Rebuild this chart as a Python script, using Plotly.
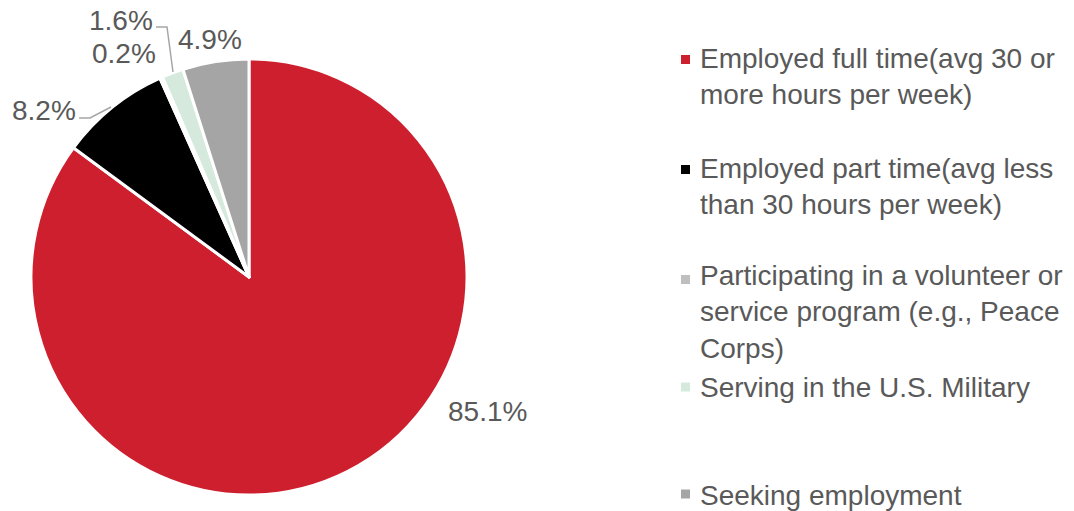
import plotly.graph_objects as go

W, H = 1074, 511

categories = [
    "Employed full time(avg 30 or more hours per week)",
    "Employed part time(avg less than 30 hours per week)",
    "Participating in a volunteer or service program (e.g., Peace Corps)",
    "Serving in the U.S. Military",
    "Seeking employment",
]
legend_text = [
    "Employed full time(avg 30 or<br>more hours per week)",
    "Employed part time(avg less<br>than 30 hours per week)",
    "Participating in a volunteer or<br>service program (e.g., Peace<br>Corps)",
    "Serving in the U.S. Military",
    "Seeking employment",
]
values = [85.1, 8.2, 0.2, 1.6, 4.9]
colors = ["#CD1F2E", "#000000", "#BFBFBF", "#D5EADD", "#A5A5A5"]

TEXT_COLOR = "#595959"
FONT = "Liberation Sans, Arial, sans-serif"
FS = 28


def px(x, y):
    return x / W, (H - y) / H


fig = go.Figure()
x0, y1 = px(31, 59)
x1, y0 = px(467, 495)
fig.add_trace(go.Pie(
    labels=categories,
    values=values,
    sort=False,
    direction="clockwise",
    rotation=0,
    marker=dict(colors=colors, line=dict(color="white", width=3)),
    textinfo="none",
    showlegend=False,
    domain=dict(x=[x0, x1], y=[y0, y1]),
))

annotations = []
shapes = []

# data labels (text from values), positioned like the reference
label_pos = [(487, 411), (44, 110), (124, 53), (121, 20), (210, 39)]
for v, (lx, ly) in zip(values, label_pos):
    ax, ay = px(lx, ly)
    annotations.append(dict(
        x=ax, y=ay, xref="paper", yref="paper", text=f"{v}%",
        showarrow=False, xanchor="center", yanchor="middle",
        font=dict(family=FONT, size=FS, color=TEXT_COLOR),
    ))

# leader lines
def path(points):
    d = ""
    for i, (x, y) in enumerate(points):
        pxx, pyy = px(x, y)
        d += ("M" if i == 0 else "L") + f"{pxx},{pyy} "
    return d.strip()

for pts in [[(79, 118), (90, 118), (111, 107)], [(156, 27), (167, 27), (173, 72)]]:
    shapes.append(dict(type="path", xref="paper", yref="paper", path=path(pts),
                       line=dict(color="#A6A6A6", width=1.5)))

# legend (manual, to reproduce spacing)
legend_mid = [76.5, 186.5, 312.5, 387, 495]
marker_y = [59.5, 169.5, 279.5, 387, 494]
for txt, col, my, ty in zip(legend_text, colors, marker_y, legend_mid):
    ax, ay = px(698, ty)
    annotations.append(dict(
        x=ax, y=ay, xref="paper", yref="paper", text=txt, align="left",
        showarrow=False, xanchor="left", yanchor="middle",
        font=dict(family=FONT, size=FS, color=TEXT_COLOR),
    ))
    sx0, sy1 = px(681, my - 4.5)
    sx1, sy0 = px(690, my + 4.5)
    shapes.append(dict(type="rect", xref="paper", yref="paper",
                       x0=sx0, x1=sx1, y0=sy0, y1=sy1,
                       fillcolor=col, line=dict(width=0)))

fig.update_layout(
    width=W, height=H,
    margin=dict(l=0, r=0, t=0, b=0),
    paper_bgcolor="white", plot_bgcolor="white",
    annotations=annotations, shapes=shapes,
    font=dict(family=FONT, color=TEXT_COLOR),
)

fig.write_html("out.html", config={"displayModeBar": False},
               post_script="document.body.style.margin='0px';")
